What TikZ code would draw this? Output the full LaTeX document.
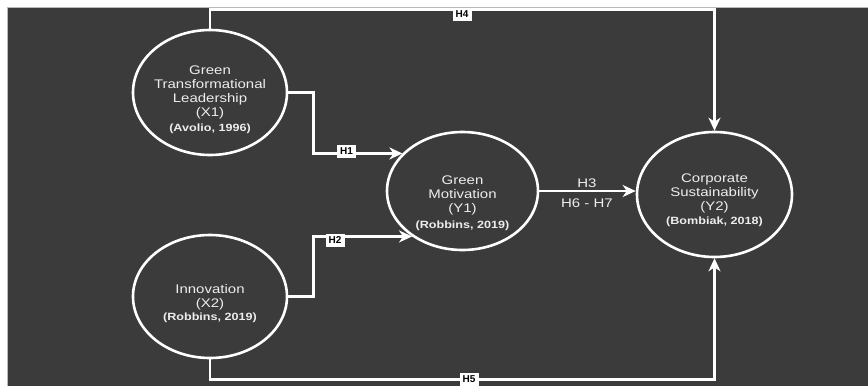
\documentclass[tikz,border=0pt]{standalone}
\usepackage{fontspec}
\setmainfont{Liberation Sans}
\usepackage{graphicx}
\usetikzlibrary{arrows.meta,shapes.geometric}
\definecolor{bgdark}{HTML}{3B3B3B}
\definecolor{txtwhite}{HTML}{EDEDED}
\newcommand{\stretchtxt}[1]{\scalebox{1.2}[1]{\begin{tabular}{@{}c@{}}#1\end{tabular}}}
\newcommand{\citetxt}[1]{{\fontsize{10.5}{15}\selectfont\bfseries #1}}
\begin{document}
\begin{tikzpicture}[x=1pt,y=-1pt,
  ell/.style={draw=white,line width=2.6pt,ellipse,inner sep=0pt},
  conn/.style={draw=white,line width=2.8pt},
  arr/.style={-{Stealth[length=13pt,width=12pt,inset=4pt]}},
  hbox/.style={fill=white,text=black,font=\fontsize{10}{11}\selectfont\bfseries,inner sep=1pt,minimum width=19pt,minimum height=13pt},
  maintxt/.style={text=txtwhite,font=\fontsize{12.5}{14}\selectfont,inner sep=0pt},
]
\useasboundingbox (0,0) rectangle (868,386);
\fill[white] (0,0) rectangle (868,386);
\fill[bgdark] (7,7) rectangle (868,386);
\draw[gray!55,line width=1pt] (7,386) -- (7,7) -- (868,7);

% ellipses
\node[ell,minimum width=154pt,minimum height=125pt] (x1) at (210,92.5) {};
\node[ell,minimum width=154pt,minimum height=123pt] (x2) at (210,296.5) {};
\node[ell,minimum width=151pt,minimum height=118pt] (y1) at (462.5,191) {};
\node[ell,minimum width=155pt,minimum height=125pt] (y2) at (714.5,194.5) {};

% texts
\node[maintxt] (tx1) at (210,100) {\stretchtxt{Green\\Transformational\\Leadership\\(X1)\\[1pt]\citetxt{(Avolio, 1996)}}};
\node[maintxt] (tx2) at (210,304) {\stretchtxt{Innovation\\(X2)\\[-1pt]\citetxt{(Robbins, 2019)}}};
\node[maintxt] (ty1) at (462.5,204) {\stretchtxt{Green\\Motivation\\(Y1)\\[2pt]\citetxt{(Robbins, 2019)}}};
\node[maintxt] (ty2) at (714.5,201) {\stretchtxt{Corporate\\Sustainability\\(Y2)\\[0pt]\citetxt{(Bombiak, 2018)}}};

% connectors
\draw[conn,arr] (x1.north) -- ++(0,-19) coordinate (h4a) -| (y2.north);
\draw[conn,arr] (x1.east) -- ++(25,0) coordinate (h1a) |- (y1.148);
\draw[conn,arr] (x2.east) -- ++(25,0) coordinate (h2a) |- (y1.222);
\draw[conn,arr] (y1.east) -- (y1.east -| y2.west);
\draw[conn,arr] (x2.south) -- ++(0,20) coordinate (h5a) -| (y2.south);

% labels
\node[hbox] (l4) at (462,14) {H4};
\node[hbox] (l1) at (346.5,151) {H1};
\node[hbox] (l2) at (335,240) {H2};
\node[hbox] (l5) at (469,379.5) {H5};
\node[maintxt] (l3) at (587,185) {\stretchtxt{H3}};
\node[maintxt] (l67) at (587,205) {\stretchtxt{H6 - H7}};
\end{tikzpicture}
\end{document}
